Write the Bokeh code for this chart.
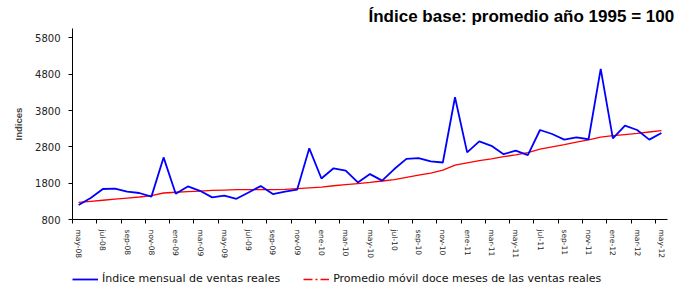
from bokeh.plotting import figure
from bokeh.models import Range1d, FixedTicker, Legend, LegendItem, Title, ColumnDataSource
from bokeh.layouts import column
from bokeh.embed import file_html
from bokeh.resources import INLINE

# ---- data ----
months = ["may-08", "jun-08", "jul-08", "ago-08", "sep-08", "oct-08", "nov-08", "dic-08",
          "ene-09", "feb-09", "mar-09", "abr-09", "may-09", "jun-09", "jul-09", "ago-09",
          "sep-09", "oct-09", "nov-09", "dic-09", "ene-10", "feb-10", "mar-10", "abr-10",
          "may-10", "jun-10", "jul-10", "ago-10", "sep-10", "oct-10", "nov-10", "dic-10",
          "ene-11", "feb-11", "mar-11", "abr-11", "may-11", "jun-11", "jul-11", "ago-11",
          "sep-11", "oct-11", "nov-11", "dic-11", "ene-12", "feb-12", "mar-12", "abr-12",
          "may-12"]

indice_mensual = [1200, 1390, 1640, 1650, 1570, 1530, 1430, 2510,
                  1510, 1710, 1590, 1410, 1460, 1370, 1545, 1720,
                  1500, 1565, 1620, 2760, 1930, 2210, 2145, 1820,
                  2050, 1870, 2190, 2470, 2490, 2400, 2370, 4166,
                  2650, 2950, 2830, 2600, 2695, 2575, 3265, 3155,
                  3000, 3060, 3010, 4950, 3035, 3385, 3265, 3000,
                  3180]

promedio_movil = [1270, 1300, 1330, 1360, 1390, 1420, 1460, 1530,
                  1550, 1570, 1580, 1600, 1610, 1620, 1620, 1625,
                  1620, 1630, 1650, 1670, 1690, 1730, 1760, 1790,
                  1820, 1860, 1900, 1960, 2020, 2080, 2160, 2300,
                  2360, 2420, 2470, 2530, 2580, 2640, 2740, 2800,
                  2860, 2930, 2990, 3070, 3110, 3140, 3170, 3210,
                  3250]

y_ticks = [800, 1800, 2800, 3800, 4800, 5800]

title_text = "Índice base: promedio año 1995 = 100"
y_label = "Indices"
legend_labels = ["Índice mensual de ventas reales",
                 "Promedio móvil doce meses de las ventas reales"]

# ---- main figure ----
n = len(months)
idx = list(range(n))
src = ColumnDataSource(dict(x=idx, indice=indice_mensual, prom=promedio_movil))

p = figure(width=696, height=262, output_backend="svg", toolbar_location=None,
           x_range=Range1d(-0.5, n - 0.5), y_range=Range1d(800, 6060),
           min_border_left=59, min_border_right=29, min_border_top=28, min_border_bottom=43)
p.outline_line_color = None
p.xgrid.visible = False
p.ygrid.visible = False
p.background_fill_color = "white"
p.border_fill_color = "white"

p.line("x", "prom", source=src, line_color="#FF0000", line_width=1.3)
p.line("x", "indice", source=src, line_color="#0000FF", line_width=1.8)

# x axis
even = idx[::2]
p.xaxis.ticker = FixedTicker(ticks=even, minor_ticks=[i - 0.5 for i in even[:-1]] + [n - 1.5])
p.xaxis.major_label_overrides = {i: months[i] for i in even}
p.xaxis.major_label_orientation = "vertical"
p.xaxis.major_tick_out = 0
p.xaxis.major_tick_in = 0
p.xaxis.minor_tick_out = 4
p.xaxis.minor_tick_in = 0
p.xaxis.major_label_standoff = 6
p.xaxis.major_label_text_font = "DejaVu Sans"
p.xaxis.major_label_text_font_size = "7.5px"
p.xaxis.major_label_text_color = "#222222"

# y axis
p.yaxis.ticker = FixedTicker(ticks=y_ticks, minor_ticks=[])
p.yaxis.major_tick_out = 4
p.yaxis.major_tick_in = 0
p.yaxis.minor_tick_out = 0
p.yaxis.minor_tick_in = 0
p.yaxis.major_label_standoff = 8
p.yaxis.major_label_text_font = "DejaVu Sans"
p.yaxis.major_label_text_font_size = "10px"
p.yaxis.major_label_text_color = "#222222"
p.yaxis.axis_label = y_label
p.yaxis.axis_label_text_font = "Liberation Sans"
p.yaxis.axis_label_text_font_style = "bold"
p.yaxis.axis_label_text_font_size = "9.5px"
p.yaxis.axis_label_standoff = 8

for ax in (p.xaxis, p.yaxis):
    ax.axis_line_color = "black"
    ax.axis_line_width = 1
    ax.major_tick_line_color = "black"
    ax.minor_tick_line_color = "black"

# title
p.add_layout(Title(text=title_text, align="left", offset=296, standoff=6,
                   text_font="Liberation Sans", text_font_style="bold",
                   text_font_size="17px", text_color="black"), "above")

# ---- legend strip (series lines kept out of view; only the legend is seen) ----
q = figure(width=696, height=24, output_backend="svg", toolbar_location=None,
           x_range=Range1d(n + 100, n + 101), y_range=Range1d(0, 1),
           min_border_left=72, min_border_top=10, min_border_right=0, min_border_bottom=0,
           x_axis_location=None, y_axis_location=None)
q.outline_line_color = None
q.xgrid.visible = False
q.ygrid.visible = False
lb = q.line("x", "indice", source=src, line_color="#0000FF", line_width=1.8)
lr = q.line("x", "prom", source=src, line_color="#FF0000", line_width=1.3, line_dash="9 3 2 3")

legend = Legend(items=[LegendItem(label=legend_labels[0], renderers=[lb]),
                       LegendItem(label=legend_labels[1], renderers=[lr])],
                orientation="horizontal", location="top_left",
                glyph_width=26, glyph_height=12, label_height=12, label_standoff=4,
                spacing=23, padding=0, margin=0,
                label_text_font="DejaVu Sans", label_text_font_size="11px",
                label_text_color="#111111",
                border_line_color=None, background_fill_alpha=0)
q.add_layout(legend, "center")

layout = column(p, q, spacing=0)
open("out.html", "w").write(file_html(layout, INLINE))
